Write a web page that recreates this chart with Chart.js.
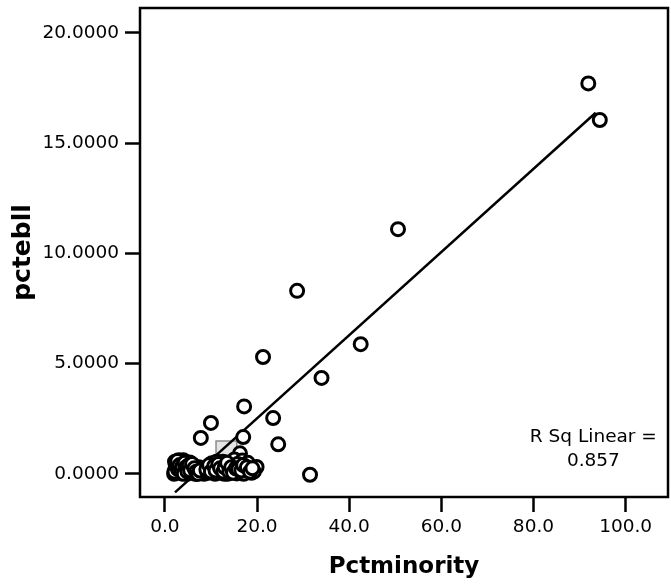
<!DOCTYPE html>
<html>
<head>
<meta charset="utf-8">
<script src="https://cdn.jsdelivr.net/npm/chart.js@4/dist/chart.umd.min.js"></script>
<style>
    html, body { margin: 0; padding: 0; background: #fff; overflow: hidden; }
    #wrap { width: 671px; height: 586px; }
</style>
</head>
<body>
<div id="wrap"><canvas id="chart"></canvas></div>
<script>
const pctMinority = [
    91.9, 94.4, 50.6, 28.7, 21.3, 42.5, 34.0, 17.2, 23.5, 10.0, 7.8, 24.6, 31.5, 17.0, 16.3,
    2.0, 2.3, 2.5, 2.8, 3.0, 3.3, 3.6, 3.9, 4.2, 4.5, 4.8, 5.1, 5.4, 5.8, 6.1, 6.6, 7.0, 7.8, 8.5,
    2.2, 2.6, 3.1, 3.4, 3.7, 4.0, 4.4, 4.7, 5.0, 5.6, 6.3, 6.9, 7.4, 8.1,
    2.1, 2.4, 2.7, 2.9, 3.2, 3.5, 3.8, 4.1, 4.3, 4.6, 4.9, 5.2, 5.5, 5.9, 6.4, 6.8, 7.2, 7.6,
    9.2, 9.8, 10.2, 10.9, 11.5, 12.1, 12.6, 13.1, 13.6, 14.1, 14.6, 15.1, 15.6, 16.4, 16.8, 17.1, 17.6, 18.0, 18.8, 19.9,
    9.5, 10.5, 11.2, 11.8, 12.3, 12.9, 13.3, 13.8, 14.3, 14.9, 15.3, 15.8, 16.1, 17.3, 18.3, 19.3,
    9.0, 9.6, 10.0, 10.7, 11.0, 11.6, 12.0, 12.7, 13.0, 13.5, 14.0, 14.4, 14.8, 15.4, 15.9, 16.6, 17.0, 17.8, 18.5, 19.0
];
const pctEbll = [
    17.71, 16.05, 11.1, 8.3, 5.3, 5.88, 4.35, 3.06, 2.53, 2.31, 1.63, 1.34, -0.04, 1.67, 0.93,
    0.0, 0.22, 0.45, 0.08, 0.62, 0.3, 0.02, 0.5, 0.15, 0.36, 0.0, 0.25, 0.52, 0.06, 0.37, 0.0, 0.2, 0.05, 0.0,
    0.55, 0.3, 0.12, 0.48, 0.25, 0.62, 0.05, 0.2, 0.45, 0.3, 0.15, 0.0, 0.3, 0.2,
    0.1, 0.38, 0.58, 0.2, 0.4, 0.15, 0.35, 0.0, 0.5, 0.3, 0.1, 0.4, 0.15, 0.45, 0.25, 0.1, 0.0, 0.15,
    0.1, 0.3, 0.48, 0.0, 0.28, 0.05, 0.55, 0.15, 0.0, 0.4, 0.2, 0.65, 0.02, 0.3, 0.6, 0.0, 0.15, 0.5, 0.05, 0.31,
    0.05, 0.2, 0.55, 0.1, 0.35, 0.0, 0.45, 0.2, 0.05, 0.35, 0.15, 0.45, 0.1, 0.35, 0.2, 0.1,
    0.2, 0.4, 0.1, 0.35, 0.15, 0.45, 0.25, 0.1, 0.3, 0.5, 0.1, 0.3, 0.05, 0.25, 0.2, 0.15, 0.4, 0.3, 0.1, 0.25
];

// linear fit line end points
const fitX = [2.2, 93.5];
const fitY = [-0.84, 16.38];

const xTickValues = [0, 20, 40, 60, 80, 100];
const yTickValues = [0, 5, 10, 15, 20];
const rSqLines = ["R Sq Linear =", "0.857"];

const FONT = "'DejaVu Sans', 'Liberation Sans', Arial, sans-serif";

// plot frame, the little grey label box and the R Sq note
const framePlugin = {
    id: "frame",
    beforeDatasetsDraw(chart) {
        const {ctx, scales: {x, y}} = chart;
        let x0 = x.getPixelForValue(11.1), x1 = x.getPixelForValue(15.6);
        let y0 = y.getPixelForValue(1.49), y1 = y.getPixelForValue(0.84);
        ctx.save();
        ctx.fillStyle = "#e4e4e4";
        ctx.strokeStyle = "#8c8c8c";
        ctx.lineWidth = 1.5;
        ctx.fillRect(x0, y0, x1 - x0, y1 - y0);
        ctx.strokeRect(x0, y0, x1 - x0, y1 - y0);
        ctx.restore();
    },
    afterDraw(chart) {
        const {ctx, chartArea: a, scales: {x, y}} = chart;
        ctx.save();
        ctx.strokeStyle = "#000";
        ctx.lineWidth = 2.5;
        ctx.strokeRect(a.left, a.top, a.right - a.left, a.bottom - a.top);
        ctx.fillStyle = "#000";
        ctx.font = "18.5px " + FONT;
        ctx.textAlign = "center";
        ctx.textBaseline = "middle";
        let cx = x.getPixelForValue(93);
        ctx.fillText(rSqLines[0], cx, y.getPixelForValue(1.66));
        ctx.fillText(rSqLines[1], cx, y.getPixelForValue(0.56));
        ctx.restore();
    }
};

// no extra room for half-labels at the ends of the axes
const noEdgePadding = s => {
    s.paddingLeft = 0;
    s.paddingRight = 0;
    s.paddingTop = 0;
    s.paddingBottom = 0;
};

let cfg = {
    type: "scatter",
    data: {
        datasets: [
            {
                label: "pctebll",
                data: pctMinority.map((v, i) => ({x: v, y: pctEbll[i]})),
                pointRadius: 6.5,
                pointBorderWidth: 3,
                pointBackgroundColor: "#fff",
                pointBorderColor: "#000",
                pointHoverRadius: 6.5
            },
            {
                type: "line",
                label: "fit",
                data: fitX.map((v, i) => ({x: v, y: fitY[i]})),
                borderColor: "#000",
                borderWidth: 2.5,
                pointRadius: 0,
                tension: 0,
                fill: false
            }
        ]
    },
    options: {
        responsive: true,
        maintainAspectRatio: false,
        animation: false,
        layout: { autoPadding: false, padding: { top: 8, right: 3, left: 0, bottom: 0 } },
        plugins: {
            legend: { display: false },
            tooltip: { enabled: false }
        },
        scales: {
            x: {
                type: "linear",
                min: -5.4,
                max: 109.2,
                afterBuildTicks: s => { s.ticks = xTickValues.map(v => ({value: v})); },
                afterFit: s => { s.height = 89; noEdgePadding(s); },
                grid: { drawOnChartArea: false, tickLength: 15, tickWidth: 2.5, tickColor: "#000" },
                border: { display: false },
                ticks: {
                    color: "#000",
                    padding: 4,
                    maxRotation: 0,
                    autoSkip: false,
                    font: { family: FONT, size: 18.5 },
                    callback: v => Number(v).toFixed(1)
                },
                title: {
                    display: true,
                    text: "Pctminority",
                    color: "#000",
                    font: { family: FONT, size: 23, weight: "bold" },
                    padding: { top: 0, bottom: 5 }
                }
            },
            y: {
                type: "linear",
                min: -1.05,
                max: 21.13,
                afterBuildTicks: s => { s.ticks = yTickValues.map(v => ({value: v})); },
                afterFit: s => { s.width = 140; noEdgePadding(s); },
                grid: { drawOnChartArea: false, tickLength: 15, tickWidth: 2.5, tickColor: "#000" },
                border: { display: false },
                ticks: {
                    color: "#000",
                    padding: 6,
                    autoSkip: false,
                    font: { family: FONT, size: 18.5 },
                    callback: v => Number(v).toFixed(4)
                },
                title: {
                    display: true,
                    text: "pctebll",
                    color: "#000",
                    font: { family: FONT, size: 25, weight: "bold" },
                    padding: { top: 8, bottom: 0 }
                }
            }
        }
    },
    plugins: [framePlugin]
};

let chart = new Chart("chart", cfg);
</script>
</body>
</html>
